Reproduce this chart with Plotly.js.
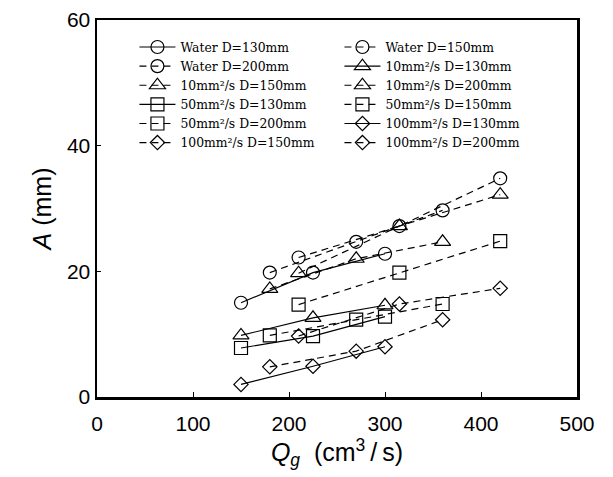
<!DOCTYPE html>
<html>
<head>
<meta charset="utf-8">
<script src="https://cdn.plot.ly/plotly-3.0.1.min.js"></script>
<style>html,body{margin:0;padding:0;background:#fff;}#chart{width:613px;height:477px;}</style>
</head>
<body>
<div id="chart"></div>
<script>
// Flow rates Q_g (cm^3/s) for each diameter
const qD130 = [150, 225, 300];
const qD150 = [180, 270, 360];
const qD200 = [210, 315, 420];

// Amplitude A (mm)
const water130 = [15, 19.8, 22.8];
const water150 = [19.8, 24.7, 29.7];
const water200 = [22.2, 27.2, 34.8];
const visc10_130 = [9.8, 12.6, 14.6];
const visc10_150 = [17.2, 22.0, 24.7];
const visc10_200 = [19.7, 27.2, 32.2];
const visc50_130 = [7.8, 9.7, 12.8];
const visc50_150 = [9.8, 12.3, 14.8];
const visc50_200 = [14.7, 19.8, 24.8];
const visc100_130 = [2.0, 4.9, 8.0];
const visc100_150 = [4.8, 7.3, 12.3];
const visc100_200 = [9.7, 14.8, 17.3];

const seriesNames = [
  'Water D=130mm', 'Water D=150mm',
  'Water D=200mm', '10mm²/s D=130mm',
  '10mm²/s D=150mm', '10mm²/s D=200mm',
  '50mm²/s D=130mm', '50mm²/s D=150mm',
  '50mm²/s D=200mm', '100mm²/s D=130mm',
  '100mm²/s D=150mm', '100mm²/s D=200mm'
];
const seriesX = [qD130, qD150, qD200, qD130, qD150, qD200, qD130, qD150, qD200, qD130, qD150, qD200];
const seriesY = [water130, water150, water200, visc10_130, visc10_150, visc10_200,
                 visc50_130, visc50_150, visc50_200, visc100_130, visc100_150, visc100_200];
const symbols = ['circle-open','circle-open','circle-open','triangle-up-open','triangle-up-open','triangle-up-open',
                 'square-open','square-open','square-open','diamond-open','diamond-open','diamond-open'];
const sizes = [13,13,13,14,14,14,13,13,13,11,11,11];
const dashes = ['solid','7px,5px','7px,5px','solid','7px,5px','7px,5px','solid','7px,5px','7px,5px','solid','7px,5px','7px,5px'];

const traces = seriesNames.map((name, i) => ({
  x: seriesX[i], y: seriesY[i], name: name,
  type: 'scatter', mode: 'lines+markers',
  line: {color: '#000', width: 1.2, dash: dashes[i]},
  marker: {symbol: symbols[i], size: sizes[i], color: '#000', line: {color: '#000', width: 1.2}}
}));

const layout = {
  width: 613, height: 477,
  margin: {l: 97, r: 36, t: 20, b: 80},
  paper_bgcolor: '#fff', plot_bgcolor: '#fff',
  showlegend: true,
  legend: {
    orientation: 'h', x: 0.078, y: 0.967, xanchor: 'left', yanchor: 'top',
    entrywidth: 154, entrywidthmode: 'pixels', itemwidth: 36,
    bgcolor: 'rgba(0,0,0,0)', borderwidth: 0, tracegroupgap: 0,
    font: {family: 'DejaVu Serif, serif', size: 12.4, color: '#000'}
  },
  xaxis: {
    range: [0, 500], tickvals: [0, 100, 200, 300, 400, 500],
    showgrid: false, zeroline: false,
    showline: true, mirror: true, linecolor: '#000', linewidth: 2.5,
    ticks: 'inside', ticklen: 5, tickwidth: 1, tickcolor: '#000',
    ticklabelstandoff: 6,
    tickfont: {family: 'Liberation Sans, Arial, sans-serif', size: 21, color: '#000'},
    title: {text: '<i>Q</i><sub><i>g</i></sub>\u00a0\u00a0(cm<sup>3</sup>\u2009/\u2009s)', standoff: 10,
            font: {family: 'Liberation Sans, Arial, sans-serif', size: 25, color: '#000'}}
  },
  yaxis: {
    range: [0, 60], tickvals: [0, 20, 40, 60],
    showgrid: false, zeroline: false,
    showline: true, mirror: true, linecolor: '#000', linewidth: 2.5,
    ticks: 'inside', ticklen: 4, tickwidth: 1, tickcolor: '#000',
    tickfont: {family: 'Liberation Sans, Arial, sans-serif', size: 21, color: '#000'},
    title: {text: '<i>A</i>\u00a0(mm)', standoff: 8,
            font: {family: 'Liberation Sans, Arial, sans-serif', size: 25, color: '#000'}}
  }
};

Plotly.newPlot('chart', traces, layout, {displayModeBar: false, staticPlot: true});
</script>
</body>
</html>
